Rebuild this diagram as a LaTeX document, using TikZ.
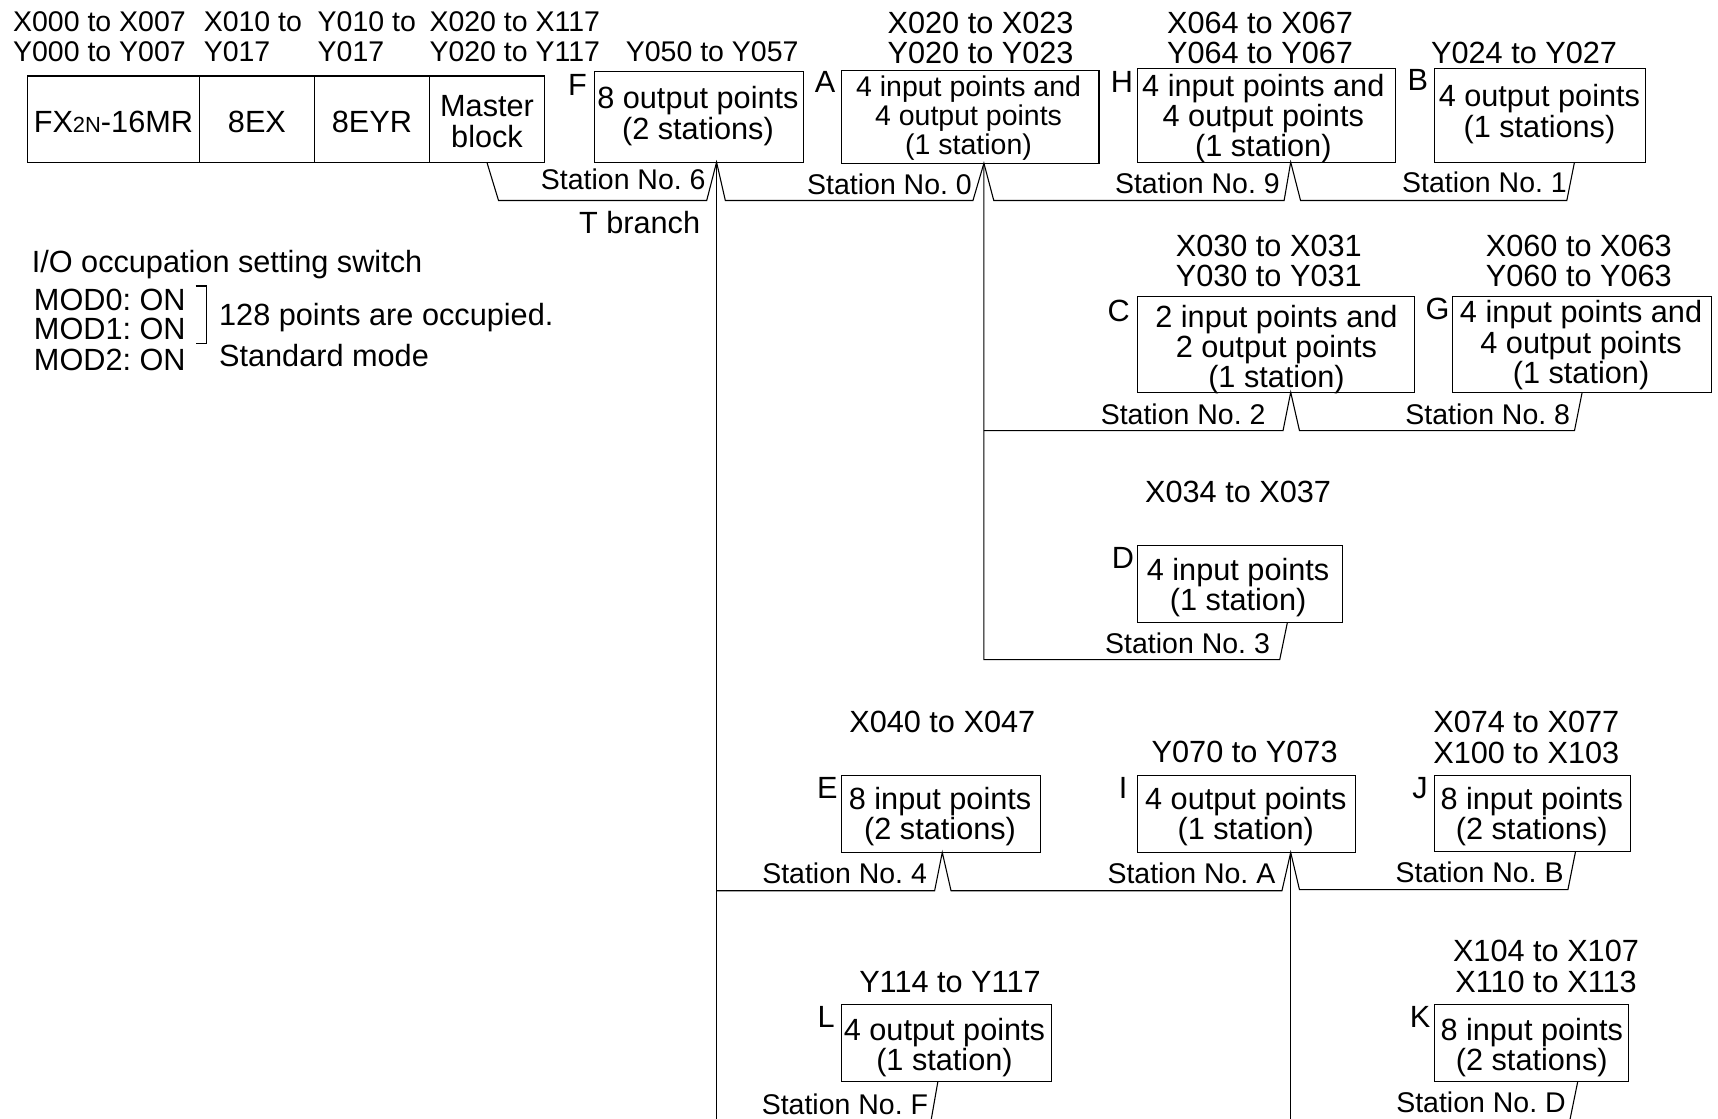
\documentclass[tikz,border=0pt]{standalone}
\usepackage{fontspec}
\setmainfont{Liberation Sans}
\frenchspacing
\usetikzlibrary{fit}
\tikzset{
  unit/.style={draw=black,line width=0.5pt,inner sep=0pt,rectangle},
  wire/.style={draw=black,line width=0.5pt,line join=miter},
  txt/.style={inner sep=0pt,outer sep=0pt,align=center,font=\fontsize{14}{13.8}\selectfont},
  txts/.style={txt,font=\fontsize{13}{13.6}\selectfont},
  one/.style={txt,text height=10pt,text depth=0pt},
  ones/.style={txts,text height=9.4pt,text depth=0pt},
  lft/.style={txts,align=left,anchor=west},
  onel/.style={one,anchor=west},
  oner/.style={one,anchor=east},
  stat/.style={ones,anchor=east},
}
\begin{document}
\begin{tikzpicture}[x=0.5pt,y=-0.5pt]
\useasboundingbox (0,0) rectangle (1568,1021.3);
% boxes
\node[unit,fit={(25,69.4)(182,148)}] (fx) {};
\node[unit,fit={(182,69.4)(287,148)}] (ex) {};
\node[unit,fit={(287,69.4)(392,148)}] (eyr) {};
\node[unit,fit={(392,69.4)(497,148)}] (master) {};
\node[unit,fit={(542.5,65)(733,148)}] (F) {};
\node[unit,fit={(768,64)(1003,149)}] (A) {};
\node[unit,fit={(1038,62.4)(1274,148)}] (H) {};
\node[unit,fit={(1309,62.4)(1502,148)}] (B) {};
\node[unit,fit={(1038,270.8)(1291,358)}] (C) {};
\node[unit,fit={(1326,270.8)(1562,358)}] (G) {};
\node[unit,fit={(1038,498)(1225,568)}] (D) {};
\node[unit,fit={(768,708)(950,778)}] (E) {};
\node[unit,fit={(1038,708)(1237,778)}] (I) {};
\node[unit,fit={(1309,708)(1488,777)}] (J) {};
\node[unit,fit={(768,917)(960,987)}] (L) {};
\node[unit,fit={(1309,917)(1486,987)}] (K) {};
% box texts
\node[one] (tfx) at (103.5,111) {FX{\fontsize{10}{10}\selectfont 2N}-16MR};
\node[one] (tex) at (234.5,111) {8EX};
\node[one] (teyr) at (339.5,111) {8EYR};
\node[txt] (tmaster) at (444.5,111) {Master\\block};
\node[txt] (tF) at (637,106) {8 output points\\(2 stations)};
\node[txts,font=\fontsize{13}{13.1}\selectfont] (tA) at (884,108) {4 input points and\\4 output points\\(1 station)};
\node[txt] (tH) at (1153,108) {4 input points and\\4 output points\\(1 station)};
\node[txt] (tB) at (1405,104) {4 output points\\(1 stations)};
\node[txt] (tC) at (1165,319) {2 input points and\\2 output points\\(1 station)};
\node[txt] (tG) at (1443,315) {4 input points and\\4 output points\\(1 station)};
\node[txt] (tD) at (1130,536) {4 input points\\(1 station)};
\node[txt] (tE) at (858,745) {8 input points\\(2 stations)};
\node[txt] (tI) at (1137,745) {4 output points\\(1 station)};
\node[txt] (tJ) at (1398,745) {8 input points\\(2 stations)};
\node[txt] (tL) at (862,956) {4 output points\\(1 station)};
\node[txt] (tK) at (1398,956) {8 input points\\(2 stations)};
% address headers
\node[lft] (h1) at (12,33.5) {X000 to X007\\Y000 to Y007};
\node[lft] (h2) at (186,33.5) {X010 to\\Y017};
\node[lft] (h3) at (290,33.5) {Y010 to\\Y017};
\node[lft] (h4) at (392,33.5) {X020 to X117\\Y020 to Y117};
\node[ones] (hF) at (650,46.5) {Y050 to Y057};
\node[txt] (hA) at (895,34.5) {X020 to X023\\Y020 to Y023};
\node[txt] (hH) at (1150,34.5) {X064 to X067\\Y064 to Y067};
\node[one] (hB) at (1391,48) {Y024 to Y027};
\node[txt] (hC) at (1158,238) {X030 to X031\\Y030 to Y031};
\node[txt] (hG) at (1441,238) {X060 to X063\\Y060 to Y063};
\node[one] (hD) at (1130,448.5) {X034 to X037};
\node[one] (hE) at (860,658.5) {X040 to X047};
\node[one] (hI) at (1136,686) {Y070 to Y073};
\node[txt] (hJ) at (1393,673) {X074 to X077\\X100 to X103};
\node[one] (hL) at (867,895.5) {Y114 to Y117};
\node[txt] (hK) at (1411,882) {X104 to X107\\X110 to X113};
% letters
\node[one] (lF) at (527,77) {F};
\node[one] (lA) at (753,74) {A};
\node[one] (lH) at (1024,74) {H};
\node[one] (lB) at (1294,73) {B};
\node[one] (lC) at (1021,283) {C};
\node[one] (lG) at (1312,282) {G};
\node[one] (lD) at (1025,509) {D};
\node[one] (lE) at (755,719) {E};
\node[one] (lI) at (1025,719) {I};
\node[one] (lJ) at (1296,719) {J};
\node[one] (lL) at (754,928) {L};
\node[one] (lK) at (1296,928) {K};
% station labels
\node[stat] (s6) at (644,164) {Station No. 6};
\node[stat] (s0) at (887,168) {Station No. 0};
\node[stat] (s9) at (1168,167) {Station No. 9};
\node[stat] (s1) at (1430,166) {Station No. 1};
\node[stat] (s2) at (1155,378) {Station No. 2};
\node[stat] (s8) at (1433,378) {Station No. 8};
\node[stat] (s3) at (1159,587) {Station No. 3};
\node[stat] (s4) at (846,797) {Station No. 4};
\node[stat] (sA) at (1164,797) {Station No. A};
\node[stat] (sB) at (1427,796) {Station No. B};
\node[stat] (sF) at (847,1008) {Station No. F};
\node[stat] (sD) at (1429,1006) {Station No. D};
\node[oner] (tb) at (639,203) {T branch};
% switch notes
\node[onel] (n1) at (29,239) {I/O occupation setting switch};
\node[onel] (m0) at (31,273) {MOD0: ON};
\node[onel] (m1) at (31,300) {MOD1: ON};
\node[onel] (m2) at (31,328) {MOD2: ON};
\node[onel] (n2) at (200,287) {128 points are occupied.};
\node[onel] (n3) at (200,324.5) {Standard mode};
\coordinate (b1) at (178.5,261);
\coordinate (b2) at (188.5,261);
\coordinate (b3) at (188.5,313.5);
\coordinate (b4) at (178.5,313.5);
\draw[wire] (b1) -- (b2) -- (b3) -- (b4);
% tap points
\coordinate (pF) at (654,148);
\coordinate (pA) at (898,149);
\coordinate (pH) at (1178,148);
\coordinate (pB) at (1437,148);
\coordinate (pC) at (1178,358);
\coordinate (pG) at (1444,358);
\coordinate (pD) at (1175,568);
\coordinate (pE) at (860,778);
\coordinate (pI) at (1178,778);
\coordinate (pJ) at (1438,777);
\coordinate (pL) at (856,987);
\coordinate (pK) at (1440,987);
\coordinate (end1) at (654,1021.3);
\coordinate (end2) at (1178,1021.3);
\coordinate (endL) at (850,1021.3);
\coordinate (endK) at (1433,1021.3);
\coordinate (j1) at (654,813);
\coordinate (j2) at (898,393);
\coordinate (j3) at (898,602);
% main trunk lines
\draw[wire] (master.south) -- (455,183) -- (645,183) -- (pF) -- (662,183) -- (888,183) -- (pA) -- (907,183) -- (1172,183) -- (pH) -- (1187,183) -- (1430,183) -- (pB);
\draw[wire] (pF) -- (end1);
\draw[wire] (pA) -- (j3) -- (1168,602) -- (pD);
\draw[wire] (j2) -- (1171,393) -- (pC) -- (1186,393) -- (1437,393) -- (pG);
\draw[wire] (j1) -- (853,813) -- (pE) -- (868,813) -- (1170,813) -- (pI) -- (1186,812) -- (1431,812) -- (pJ);
\draw[wire] (pI) -- (end2);
\draw[wire] (pL) -- (endL);
\draw[wire] (pK) -- (endK);
\end{tikzpicture}
\end{document}
